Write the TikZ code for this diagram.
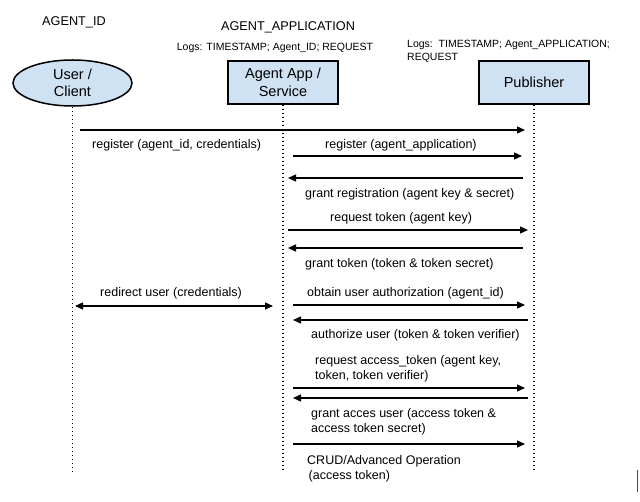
\documentclass[tikz,border=0pt]{standalone}
\usepackage{fontspec}
\setmainfont{Liberation Sans}
\usepackage{xcolor}
\usetikzlibrary{arrows.meta,shapes.geometric}

\definecolor{boxblue}{HTML}{CFE2F3}

\begin{document}
\begin{tikzpicture}[x=1pt,y=-1pt,
    party/.style={draw=black, line width=1.5pt, fill=boxblue, minimum width=110pt, minimum height=43pt, align=center, font=\fontsize{14.5}{17.5}\selectfont},
    life/.style={draw=black, line width=1.3pt, dash pattern=on 1.3pt off 2.7pt},
    msg/.style={line width=1.3pt, -{Triangle[length=8pt,width=7pt]}},
    note/.style={font=\fontsize{12.5}{15}\selectfont, inner sep=0pt, align=left, anchor=west},
    head/.style={font=\fontsize{12.7}{15}\selectfont, inner sep=0pt},
    logs/.style={font=\fontsize{10.5}{13}\selectfont, inner sep=0pt, align=left}]

    \useasboundingbox (0,0) rectangle (640,502);

    %% headers
    \node[head] (hid)  at (74,22) {AGENT\_ID};
    \node[head] (happ) at (288,27) {AGENT\_APPLICATION};
    \node[logs] (lapp) at (275,48) {Logs: TIMESTAMP; Agent\_ID; REQUEST};
    \node[logs, anchor=north west] (lpub) at (407,40) {Logs:\ \ TIMESTAMP; Agent\_APPLICATION;\\REQUEST};

    %% participants
    \node[party, ellipse, minimum width=119pt, minimum height=46pt, inner sep=0pt] (usr) at (72.5,83) {User /\\Client};
    \node[party] (app) at (283,82.5) {Agent App /\\Service};
    \node[party] (pub) at (534,82.5) {Publisher};

    %% lifelines
    \coordinate (usrend) at (72.5,472);
    \coordinate (append) at (283,472);
    \coordinate (pubend) at (534,472);
    \draw[life] (usr.south) -- (usrend);
    \draw[life] (app.south) -- (append);
    \draw[life] (pub.south) -- (pubend);

    %% register
    \draw[msg, shorten <=7.5pt, shorten >=9pt] (usr |- 0,130) -- (pub |- 0,130);
    \node[note] (m1) at (92,145) {register (agent\_id, credentials)};
    \node[note] (m2) at (325,145) {register (agent\_application)};
    \draw[msg, shorten <=10pt, shorten >=12pt] (app |- 0,156) -- (pub |- 0,156);
    \draw[msg, shorten <=11pt, shorten >=5pt] (pub |- 0,178) -- (app |- 0,178);
    \node[note] (m3) at (305,194) {grant registration (agent key \& secret)};

    %% token
    \node[note] (m4) at (330,218) {request token (agent key)};
    \draw[msg, shorten <=5pt, shorten >=6pt] (app |- 0,230) -- (pub |- 0,230);
    \draw[msg, shorten <=11pt, shorten >=5pt] (pub |- 0,248) -- (app |- 0,248);
    \node[note] (m5) at (305,264) {grant token (token \& token secret)};

    %% authorization
    \node[note] (m6) at (100,293) {redirect user (credentials)};
    \draw[line width=1.3pt, {Triangle[length=8pt,width=7pt]}-{Triangle[length=8pt,width=7pt]}, shorten <=2.5pt, shorten >=10pt] (usr |- 0,306) -- (app |- 0,306);
    \node[note] (m7) at (307,293) {obtain user authorization (agent\_id)};
    \draw[msg, shorten <=10pt, shorten >=9pt] (app |- 0,305) -- (pub |- 0,305);
    \draw[msg, shorten <=6pt, shorten >=10pt] (pub |- 0,320) -- (app |- 0,320);
    \node[note] (m8) at (311,335) {authorize user (token \& token verifier)};

    %% access token
    \node[note] (m9) at (315,369) {request access\_token (agent key,\\token, token verifier)};
    \draw[msg, shorten <=10pt, shorten >=9pt] (app |- 0,388) -- (pub |- 0,388);
    \draw[msg, shorten <=6pt, shorten >=10pt] (pub |- 0,398) -- (app |- 0,398);
    \node[note] (m10) at (311,421.5) {grant acces user (access token \&\\access token secret)};
    \draw[msg, shorten <=10pt, shorten >=9pt] (app |- 0,444) -- (pub |- 0,444);
    \node[note] (m11) at (307,468.5) {CRUD/Advanced Operation\\\hspace*{1.5pt}(access token)};

    %mark
    \draw[black!70, line width=1pt] (637,470) -- (637,492);

\end{tikzpicture}
\end{document}
